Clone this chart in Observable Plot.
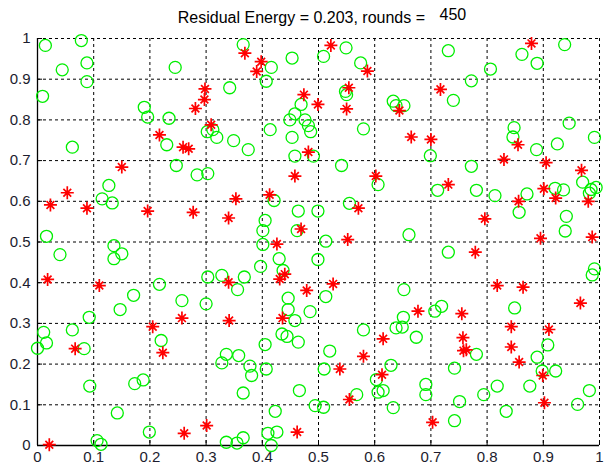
<!DOCTYPE html>
<html><head><meta charset="utf-8">
<script src="https://cdn.jsdelivr.net/npm/d3@7"></script>
<script src="https://cdn.jsdelivr.net/npm/@observablehq/plot@0.6"></script>
<style>
body{margin:0;background:#fff}
#wrap{position:relative;width:604px;height:466px}
#title{position:absolute;left:0;top:9px;width:604px;padding-left:40px;box-sizing:border-box;text-align:center;font:16px "Liberation Sans",Arial,sans-serif;color:#000;white-space:pre}
#title span{position:relative;top:-3px;margin-left:10px}
</style>
</head><body><div id="wrap"><div id="chart"></div><div id="title"></div></div>
<script>
const titleMain = "Residual Energy = 0.203, rounds = ";
const titleRounds = "450";
const tickValues = [0, 0.1, 0.2, 0.3, 0.4, 0.5, 0.6, 0.7, 0.8, 0.9, 1];
const tickLabels = ["0", "0.1", "0.2", "0.3", "0.4", "0.5", "0.6", "0.7", "0.8", "0.9", "1"];

// green circles (nodes)
const nodeX = [0.014,0.078,0.088,0.044,0.088,0.009,0.245,0.190,0.196,0.234,0.342,0.302,0.312,0.319,0.062,0.230,0.247,0.284,0.303,
0.366,0.416,0.453,0.407,0.509,0.549,0.575,0.548,0.550,0.469,0.458,0.449,0.476,0.482,0.486,0.414,0.453,0.349,0.375,0.458,0.491,0.541,0.580,0.633,0.638,0.652,
0.731,0.938,0.862,0.889,0.806,0.772,0.740,0.848,0.846,0.946,0.991,0.925,0.888,0.699,0.772,
0.127,0.115,0.133,0.016,0.040,0.136,0.150,0.136,0.217,0.303,0.328,0.171,0.257,0.300,0.147,
0.606,0.421,0.464,0.499,0.555,0.405,0.401,0.462,0.401,0.513,0.661,0.430,0.499,0.397,0.437,0.368,0.356,0.652,0.446,0.513,0.446,0.485,
0.970,0.712,0.781,0.814,0.871,0.921,0.936,0.985,0.982,0.994,0.857,0.941,0.939,0.731,0.991,0.987,0.719,0.707,0.849,
0.092,0.011,0.062,0.016,0.000,0.083,0.220,0.336,0.328,0.093,0.173,0.188,0.142,0.199,0.106,0.113,0.336,
0.458,0.435,0.444,0.464,0.405,0.358,0.378,0.381,0.407,0.520,0.580,0.510,0.366,0.466,0.568,0.603,0.606,0.615,0.629,0.633,0.494,0.509,0.423,0.410,0.426,0.416,0.355,0.366,0.651,0.638,0.649,0.674,
0.908,0.781,0.889,0.742,0.898,0.922,0.691,0.691,0.818,0.876,0.982,0.794,0.751,0.961,0.834,0.742];
const nodeY = [0.983,0.995,0.940,0.923,0.894,0.858,0.929,0.831,0.807,0.804,0.879,0.771,0.776,0.757,0.733,0.739,0.688,0.665,0.668,
0.985,0.929,0.952,0.895,0.956,0.977,0.940,0.870,0.862,0.838,0.815,0.800,0.800,0.786,0.771,0.776,0.757,0.749,0.727,0.711,0.711,0.688,0.778,0.846,0.835,0.835,
0.970,0.985,0.961,0.939,0.925,0.896,0.848,0.781,0.758,0.792,0.757,0.741,0.727,0.712,0.686,
0.639,0.606,0.596,0.514,0.469,0.491,0.471,0.459,0.396,0.414,0.418,0.369,0.356,0.348,0.334,
0.641,0.602,0.576,0.576,0.595,0.553,0.528,0.528,0.494,0.502,0.518,0.459,0.457,0.440,0.430,0.414,0.383,0.383,0.362,0.366,0.334,0.329,
0.647,0.627,0.627,0.614,0.618,0.632,0.628,0.629,0.620,0.634,0.573,0.563,0.527,0.475,0.434,0.419,0.342,0.330,0.338,
0.315,0.278,0.284,0.252,0.239,0.238,0.258,0.224,0.203,0.146,0.152,0.161,0.080,0.033,0.012,0.003,0.008,
0.307,0.274,0.268,0.254,0.248,0.221,0.195,0.172,0.188,0.232,0.284,0.188,0.129,0.135,0.125,0.162,0.131,0.135,0.197,0.093,0.098,0.094,0.084,0.030,0.033,0.000,0.006,0.019,0.315,0.289,0.291,0.266,
0.247,0.224,0.217,0.190,0.183,0.183,0.150,0.125,0.146,0.146,0.135,0.125,0.108,0.101,0.084,0.061];

// red stars (cluster heads)
const headX = [0.298,0.297,0.281,0.309,0.217,0.259,0.269,0.150,0.369,0.398,0.390,0.522,0.587,0.554,0.474,0.499,0.550,0.644,0.665,0.482,0.458,0.602,
0.879,0.717,0.700,0.855,0.830,0.905,0.968,0.053,0.023,0.088,0.196,0.277,0.340,0.018,0.110,0.340,0.353,0.413,0.571,0.469,0.426,0.552,0.440,0.431,0.526,0.479,0.677,
0.731,0.901,0.922,0.980,0.856,0.796,0.895,0.987,0.779,0.818,0.864,0.966,0.755,0.067,0.205,0.257,0.223,0.021,0.261,0.301,0.341,0.436,0.615,0.580,0.538,0.613,0.555,0.462,
0.843,0.910,0.757,0.758,0.763,0.843,0.857,0.899,0.902,0.703];
const headY = [0.876,0.850,0.828,0.788,0.763,0.733,0.729,0.684,0.964,0.943,0.919,0.983,0.920,0.879,0.862,0.838,0.827,0.823,0.758,0.721,0.662,0.662,
0.988,0.875,0.752,0.739,0.703,0.695,0.676,0.621,0.591,0.583,0.576,0.573,0.559,0.408,0.393,0.401,0.606,0.616,0.583,0.532,0.495,0.506,0.421,0.409,0.397,0.381,0.330,
0.641,0.631,0.608,0.600,0.600,0.557,0.509,0.512,0.475,0.393,0.389,0.350,0.324,0.238,0.292,0.313,0.228,0.002,0.030,0.049,0.307,0.313,0.262,0.219,0.188,0.174,0.113,0.033,
0.292,0.285,0.265,0.233,0.235,0.242,0.205,0.172,0.105,0.057];

const nodes = nodeX.map((x, i) => ({x, y: nodeY[i]}));
const heads = headX.map((x, i) => ({x, y: headY[i]}));

// MATLAB-like '*' marker: plus + shorter cross
const starSymbol = {
  draw(ctx, size) {
    const r = Math.sqrt(size / Math.PI);
    const d = r * 0.6;
    ctx.moveTo(-r, 0); ctx.lineTo(r, 0);
    ctx.moveTo(0, -r); ctx.lineTo(0, r);
    ctx.moveTo(-d, -d); ctx.lineTo(d, d);
    ctx.moveTo(-d, d); ctx.lineTo(d, -d);
  }
};
const fmt = d => tickLabels[tickValues.indexOf(d)];

const chart = Plot.plot({
  width: 604, height: 466,
  marginTop: 38, marginBottom: 21, marginLeft: 37, marginRight: 5,
  x: {domain: [0, 1]}, y: {domain: [0, 1]},
  style: {fontFamily: "Liberation Sans, Arial, sans-serif", fontSize: "15px", color: "#1c1c2e", background: "#fff"},
  marks: [
    Plot.gridX(tickValues, {stroke: "#000", strokeOpacity: 1, strokeDasharray: "3,3"}),
    Plot.gridY(tickValues, {stroke: "#000", strokeOpacity: 1, strokeDasharray: "3,3"}),
    Plot.ruleX(tickValues, {x: d => d, y1: 0, y2: 0.012, stroke: "#000"}),
    Plot.ruleY(tickValues, {y: d => d, x1: 0, x2: 0.009, stroke: "#000"}),
    Plot.ruleX([0], {stroke: "#000", strokeWidth: 1.3}),
    Plot.ruleY([0], {stroke: "#000", strokeWidth: 1.3}),
    Plot.axisX(tickValues, {tickFormat: fmt, tickSize: 0, tickPadding: 6, fontSize: 15, label: null}),
    Plot.axisY(tickValues, {tickFormat: fmt, tickSize: 0, tickPadding: 7, fontSize: 15, label: null}),
    Plot.dot(nodes, {x: "x", y: "y", r: 6, stroke: "#00ee00", fill: "none", strokeWidth: 1.3}),
    Plot.dot(heads, {x: "x", y: "y", r: 6.5, symbol: starSymbol, stroke: "#ff0000", fill: "none", strokeWidth: 1.7})
  ]
});
document.getElementById("chart").appendChild(chart);
const t = document.getElementById("title");
t.textContent = titleMain;
const s = document.createElement("span");
s.textContent = titleRounds;
t.appendChild(s);
</script>
</body></html>
